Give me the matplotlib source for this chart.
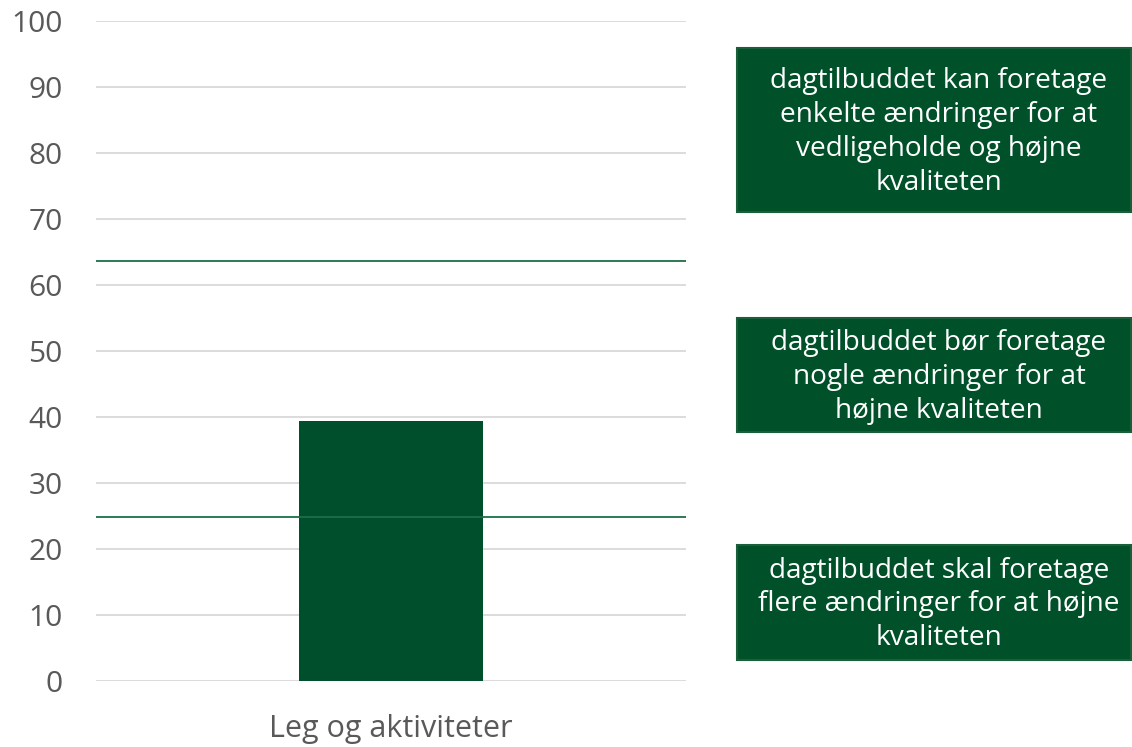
import matplotlib
matplotlib.use("Agg")
import matplotlib.pyplot as plt
from matplotlib.patches import Rectangle

categories = ["Leg og aktiviteter"]
values = [39.4]
thresholds = [63.6, 24.8]
yticks = [0, 10, 20, 30, 40, 50, 60, 70, 80, 90, 100]
box_texts = [
    "dagtilbuddet kan foretage\nenkelte ændringer for at\nvedligeholde og højne\nkvaliteten",
    "dagtilbuddet bør foretage\nnogle ændringer for at\nhøjne kvaliteten",
    "dagtilbuddet skal foretage\nflere ændringer for at højne\nkvaliteten",
]

plt.rcParams['font.family'] = ['Open Sans', 'DejaVu Sans']
W, H = 1132, 747
fig = plt.figure(figsize=(W / 100, H / 100), dpi=100)
ax = fig.add_axes([96 / W, 1 - 681 / H, (686 - 96) / W, (681 - 21) / H])

green = '#004F2C'
ax.bar(range(len(categories)), values, width=0.312, color=green, zorder=3)
for t in thresholds:
    ax.axhline(t, color='#1E6E48', linewidth=1.3, zorder=4)

ax.set_xlim(-0.5, 0.5)
ax.set_ylim(0, 100)
ax.set_yticks(yticks)
ax.set_yticklabels([str(v) for v in yticks])
ax.set_xticks(range(len(categories)))
ax.set_xticklabels(categories)
ax.grid(axis='y', color='#D9D9D9', linewidth=1.3, zorder=0)
for s in ax.spines.values():
    s.set_visible(False)
ax.tick_params(axis='y', length=0, pad=24, labelsize=21.5, labelcolor='#595959')
ax.tick_params(axis='x', length=0, pad=24, labelsize=22, labelcolor='#595959')

boxes = [(48, 212), (318, 432), (545, 660)]
for (top, bot), txt in zip(boxes, box_texts):
    x0 = 737 / W
    x1 = 1131 / W
    rect = Rectangle((x0, 1 - bot / H), x1 - x0, (bot - top) / H,
                     transform=fig.transFigure, facecolor='#005129',
                     edgecolor='#1A5E3A', linewidth=1.5)
    fig.patches.append(rect)
    fig.text(939 / W, 1 - ((top + bot) / 2 + 2) / H, txt, ha='center', va='center',
             color='white', fontsize=20.2, linespacing=1.28)

fig.savefig("out.png", dpi=100, facecolor='white')
